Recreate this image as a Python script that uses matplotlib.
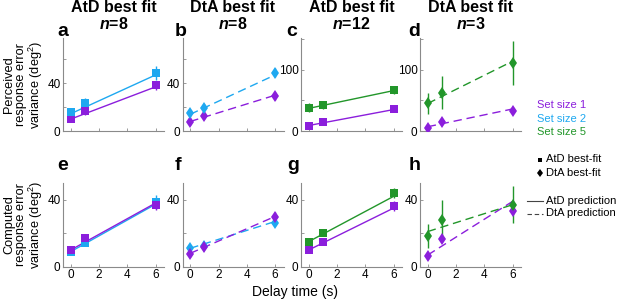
import matplotlib
matplotlib.use("Agg")
import matplotlib.pyplot as plt
from matplotlib.lines import Line2D

plt.rcParams['font.family'] = ['Liberation Sans', 'DejaVu Sans']
plt.rcParams['mathtext.fontset'] = 'custom'
plt.rcParams['mathtext.rm'] = 'Liberation Sans'
plt.rcParams['mathtext.it'] = 'Liberation Sans:italic'
plt.rcParams['mathtext.bf'] = 'Liberation Sans:bold'
plt.rcParams['mathtext.bfit'] = 'Liberation Sans:italic:bold'

# ---------------- data ----------------
delays = [0, 1, 6]
fit_x = [0, 6]

# top row: perceived variance
a_ss1 = [9.7, 16.7, 38.3];  a_ss1_err = [1.5, 3.0, 4.0];  a_ss1_fit = [10.0, 37.0]
a_ss2 = [15.6, 23.9, 48.9]; a_ss2_err = [3.0, 3.5, 6.0];  a_ss2_fit = [14.5, 47.0]
b_ss1 = [7.2, 12.5, 29.4];  b_ss1_err = [2.0, 2.5, 3.0];  b_ss1_fit = [8.0, 30.0]
b_ss2 = [14.7, 19.7, 48.9]; b_ss2_err = [3.0, 3.0, 4.0];  b_ss2_fit = [14.0, 47.0]
c_ss1 = [8.7, 14.2, 35.5];  c_ss1_err = [2.0, 2.0, 2.0];  c_ss1_fit = [9.0, 35.0]
c_ss5 = [38.2, 42.6, 67.2]; c_ss5_err = [7.0, 7.0, 7.0];  c_ss5_fit = [37.0, 66.0]
d_ss1 = [5.4, 15.2, 32.8];  d_ss1_err = [3.0, 3.0, 3.0];  d_ss1_fit = [7.0, 36.0]
d_ss5 = [45.4, 62.8, 111.0]; d_ss5_err = [17.0, 27.0, 36.0]; d_ss5_fit = [45.0, 114.0]

# bottom row: computed variance
e_ss1 = [10.0, 17.0, 37.0]; e_ss1_err = [1.0, 2.5, 3.0];  e_ss1_fit = [10.0, 38.0]
e_ss2 = [9.0, 14.0, 38.6];  e_ss2_err = [1.0, 1.5, 4.0];  e_ss2_fit = [9.0, 37.3]
f_ss1 = [7.6, 12.0, 29.4];  f_ss1_err = [2.0, 1.5, 3.0];  f_ss1_fit = [8.0, 30.0]
f_ss2 = [11.0, 12.4, 26.4]; f_ss2_err = [1.5, 1.0, 2.0];  f_ss2_fit = [11.0, 27.0]
g_ss1 = [10.0, 15.0, 36.0]; g_ss1_err = [1.0, 1.5, 3.0];  g_ss1_fit = [10.0, 35.0]
g_ss5 = [15.0, 20.0, 44.0]; g_ss5_err = [1.0, 1.5, 3.0];  g_ss5_fit = [15.0, 42.0]
h_ss1 = [6.6, 16.4, 33.4];  h_ss1_err = [1.0, 1.5, 2.0];  h_ss1_fit = [7.0, 39.0]
h_ss5 = [18.4, 27.6, 37.0]; h_ss5_err = [7.0, 12.0, 11.0]; h_ss5_fit = [21.0, 37.0]

titles = ["AtD best fit", "DtA best fit", "AtD best fit", "DtA best fit"]
ns = ["8", "8", "12", "3"]
letters_top = ["a", "b", "c", "d"]
letters_bot = ["e", "f", "g", "h"]
xticks = [0, 2, 4, 6]
legend_sets = ["Set size 1", "Set size 2", "Set size 5"]

PURPLE = '#8B1EDC'
BLUE = '#1EA8F0'
GREEN = '#22962A'
AXC = '#8a8a8a'

W, H = 617, 301
fig = plt.figure(figsize=(W / 100, H / 100), dpi=100)


def px_axes(left, top, width, height):
    return fig.add_axes([left / W, 1 - (top + height) / H, width / W, height / H])


lefts = [63, 182.5, 301, 420]
width = 101


def style(ax, ylim, yticks, ylabels, xlabels):
    ax.set_xlim(-0.55, 6.6)
    ax.set_ylim(*ylim)
    ax.set_xticks(xticks)
    ax.set_yticks(yticks)
    ax.set_yticklabels(ylabels)
    if xlabels:
        ax.set_xticklabels([str(t) for t in xticks])
    else:
        ax.set_xticklabels([])
    for s in ['top', 'right']:
        ax.spines[s].set_visible(False)
    for s in ['left', 'bottom']:
        ax.spines[s].set_color(AXC)
        ax.spines[s].set_linewidth(0.8)
    ax.tick_params(direction='in', length=2.5, width=0.6, color=AXC,
                   labelsize=8.5, pad=1.8)
    ax.patch.set_alpha(0)


def series(ax, y, err, fit, color, marker, dashed):
    ls = (0, (6, 3.5)) if dashed else '-'
    ax.plot(fit_x, fit, color=color, lw=1.0, linestyle=ls, zorder=2)
    ms = 5.2 if marker == 's' else 6.5
    ax.errorbar(delays, y, yerr=err, fmt=marker, color=color, ms=ms,
                elinewidth=1.0, capsize=1.2, capthick=0.8, zorder=3,
                markeredgewidth=0)


top_data = [
    [(a_ss1, a_ss1_err, a_ss1_fit, PURPLE), (a_ss2, a_ss2_err, a_ss2_fit, BLUE)],
    [(b_ss1, b_ss1_err, b_ss1_fit, PURPLE), (b_ss2, b_ss2_err, b_ss2_fit, BLUE)],
    [(c_ss1, c_ss1_err, c_ss1_fit, PURPLE), (c_ss5, c_ss5_err, c_ss5_fit, GREEN)],
    [(d_ss1, d_ss1_err, d_ss1_fit, PURPLE), (d_ss5, d_ss5_err, d_ss5_fit, GREEN)],
]
bot_data = [
    [(e_ss2, e_ss2_err, e_ss2_fit, BLUE), (e_ss1, e_ss1_err, e_ss1_fit, PURPLE)],
    [(f_ss2, f_ss2_err, f_ss2_fit, BLUE), (f_ss1, f_ss1_err, f_ss1_fit, PURPLE)],
    [(g_ss1, g_ss1_err, g_ss1_fit, PURPLE), (g_ss5, g_ss5_err, g_ss5_fit, GREEN)],
    [(h_ss1, h_ss1_err, h_ss1_fit, PURPLE), (h_ss5, h_ss5_err, h_ss5_fit, GREEN)],
]
is_dta = [False, True, False, True]
top_ylims = [(0, 78), (0, 78), (0, 152), (0, 152)]
top_yticks = [[0, 20, 40, 60], [0, 20, 40, 60], [0, 50, 100, 150], [0, 50, 100, 150]]
top_ylabs = [['0', '', '40', ''], ['0', '', '40', ''], ['0', '', '100', ''], ['0', '', '100', '']]

letter_top_x = [63, 181, 292, 414]
letter_bot_x = [63, 178, 293, 415]

for i in range(4):
    ax = px_axes(lefts[i], 38, width, 93)
    for (y, err, fit, col) in top_data[i]:
        series(ax, y, err, fit, col, 'd' if is_dta[i] else 's', is_dta[i])
    style(ax, top_ylims[i], top_yticks[i], top_ylabs[i], False)
    cx = (lefts[i] + width / 2) / W
    fig.text(cx, 1 - 7 / H, titles[i], ha='center', va='center',
             fontsize=11.5, fontweight='bold')
    fig.text(cx, 1 - 24 / H, r"$\mathbfit{n}$=" + ns[i], ha='center', va='center',
             fontsize=11.5, fontweight='bold')
    fig.text(letter_top_x[i] / W, 1 - 32 / H, letters_top[i], ha='center',
             va='center', fontsize=14, fontweight='bold')

    ax2 = px_axes(lefts[i], 183, width, 83.7)
    for (y, err, fit, col) in bot_data[i]:
        series(ax2, y, err, fit, col, 'd' if is_dta[i] else 's', is_dta[i])
    style(ax2, (0, 50), [0, 20, 40], ['0', '', '40'], True)
    fig.text(letter_bot_x[i] / W, 1 - 165 / H, letters_bot[i], ha='center',
             va='center', fontsize=14, fontweight='bold')

fig.text(24 / W, 1 - 85 / H, "Perceived\nresponse error\nvariance (deg$^2$)",
         rotation=90, ha='center', va='center', multialignment='center',
         fontsize=9.2, linespacing=0.98)
fig.text(24 / W, 1 - 225 / H, "Computed\nresponse error\nvariance (deg$^2$)",
         rotation=90, ha='center', va='center', multialignment='center',
         fontsize=9.2, linespacing=0.98)
fig.text(294.5 / W, 1 - 292 / H, "Delay time (s)", ha='center', va='center',
         fontsize=10)

LF = 8.0
# colour legend
for lab, col, yy in zip(legend_sets, [PURPLE, BLUE, GREEN], [105, 119, 132]):
    fig.text(537 / W, 1 - yy / H, lab, color=col, ha='left', va='center', fontsize=LF)

# marker legend
fig.add_artist(Line2D([540 / W], [1 - 159.5 / H], marker='s', ms=3.2, color='black',
                      markeredgewidth=0, transform=fig.transFigure))
fig.text(545.5 / W, 1 - 159.5 / H, "AtD best-fit", ha='left', va='center', fontsize=LF)
fig.add_artist(Line2D([540 / W], [1 - 172.5 / H], marker='d', ms=4.5, color='black',
                      markeredgewidth=0, transform=fig.transFigure))
fig.text(545.5 / W, 1 - 172.5 / H, "DtA best-fit", ha='left', va='center', fontsize=LF)

# line legend
fig.add_artist(Line2D([527 / W, 543 / W], [1 - 200.5 / H, 1 - 200.5 / H], color='#444444',
                      lw=0.8, transform=fig.transFigure))
fig.text(546 / W, 1 - 200.5 / H, "AtD prediction", ha='left', va='center', fontsize=LF)
fig.add_artist(Line2D([527 / W, 543 / W], [1 - 213.5 / H, 1 - 213.5 / H], color='#444444',
                      lw=0.8, linestyle=(0, (4, 2.5)), transform=fig.transFigure))
fig.text(546 / W, 1 - 213.5 / H, "DtA prediction", ha='left', va='center', fontsize=LF)

fig.savefig("out.png", dpi=100)
